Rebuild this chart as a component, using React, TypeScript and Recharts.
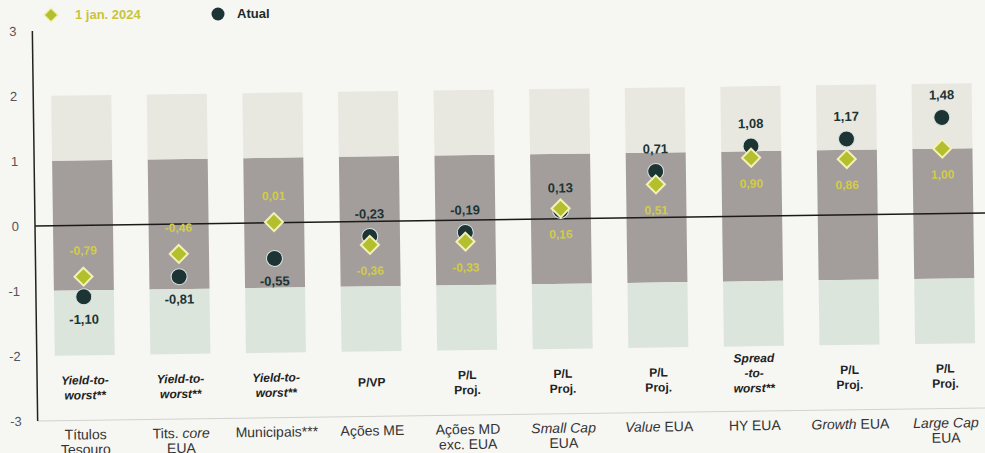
import React from 'react';
import { ComposedChart, Bar, Line, XAxis, YAxis, ReferenceLine, LabelList } from 'recharts';

// Valuation z-scores per asset class
const categorias = [
  'Títulos Tesouro', 'Tits. core EUA', 'Municipais***', 'Ações ME', 'Ações MD exc. EUA',
  'Small Cap EUA', 'Value EUA', 'HY EUA', 'Growth EUA', 'Large Cap EUA',
];
const atual = [-1.1, -0.81, -0.55, -0.23, -0.19, 0.13, 0.71, 1.08, 1.17, 1.48];
const jan2024 = [-0.79, -0.46, 0.01, -0.36, -0.33, 0.16, 0.51, 0.9, 0.86, 1.0];

// metric used for each class (italic flag per line)
const metricas: [string, boolean][][] = [
  [['Yield-to-', true], ['worst**', true]],
  [['Yield-to-', true], ['worst**', true]],
  [['Yield-to-', true], ['worst**', true]],
  [['P/VP', false]],
  [['P/L', false], ['Proj.', false]],
  [['P/L', false], ['Proj.', false]],
  [['P/L', false], ['Proj.', false]],
  [['Spread', true], ['-to-', true], ['worst**', true]],
  [['P/L', false], ['Proj.', false]],
  [['P/L', false], ['Proj.', false]],
];

// axis names, each line split in segments [text, italic]
const nomes: [string, boolean][][][] = [
  [[['Títulos', false]], [['Tesouro', false]]],
  [[['Tits. ', false], ['core', true]], [['EUA', false]]],
  [[['Municipais***', false]]],
  [[['Ações ME', false]]],
  [[['Ações MD', false]], [['exc. EUA', false]]],
  [[['Small Cap', true]], [['EUA', false]]],
  [[['Value', true], [' EUA', false]]],
  [[['HY EUA', false]]],
  [[['Growth', true], [' EUA', false]]],
  [[['Large Cap', true]], [['EUA', false]]],
];

const yTicks = [-3, -2, -1, 0, 1, 2, 3];
const desvio1 = 1;
const desvio2 = 2;

const data = categorias.map((c, i) => ({
  nome: c,
  atual: atual[i],
  jan: jan2024[i],
  internoPos: desvio1,
  externoPos: desvio2 - desvio1,
  internoNeg: -desvio1,
  externoNeg: -(desvio2 - desvio1),
}));

const fmt = (v: number) => v.toFixed(2).replace('.', ',');
const abaixo = (i: number) => atual[i] < -0.4;

const FONT = '"Liberation Sans", Arial, sans-serif';
const COR_ATUAL = '#1d3434';
const COR_JAN = '#b3bf2c';

const diamondPath = (cx: number, cy: number, r: number) =>
  `M${cx},${cy - r} L${cx + r},${cy} L${cx},${cy + r} L${cx - r},${cy} Z`;

const CategoryTick = (props: any) => {
  const { x, y, payload } = props;
  const i = payload.index;
  const m = metricas[i];
  const start = m.length === 3 ? -53 : m.length === 2 ? -40 : -34;
  return (
    <g>
      {m.map(([t, it], k) => (
        <text key={'m' + k} x={x} y={y + start + k * 15 + 4} textAnchor="middle" fontFamily={FONT}
          fontSize={12} fontWeight="bold" fontStyle={it ? 'italic' : 'normal'} fill="#222">{t}</text>
      ))}
      {nomes[i].map((linha, k) => (
        <text key={'n' + k} x={x} y={y + 15 + k * 15 + 4} textAnchor="middle" fontFamily={FONT}
          fontSize={14} fill="#333">
          {linha.map(([t, it], s) => (
            <tspan key={s} fontStyle={it ? 'italic' : 'normal'}>{t}</tspan>
          ))}
        </text>
      ))}
    </g>
  );
};

const App: React.FC = () => (
  <div style={{ position: 'absolute', left: 0, top: 0, width: 985, height: 453, overflow: 'hidden', background: '#f6f6f3' }}>
    <div style={{ position: 'absolute', left: 0, top: 0, transform: 'rotate(-0.78deg)', transformOrigin: '35px 226px' }}>
      <ComposedChart width={994} height={470} data={data} stackOffset="sign" barSize={60}
        margin={{ top: 31, right: 3, bottom: 17, left: 0 }}>
        <XAxis dataKey="nome" height={32} tickSize={0} tickMargin={0} interval={0}
          axisLine={{ stroke: '#d2d2ce' }} tick={<CategoryTick />} />
        <YAxis width={35} domain={[-3, 3]} ticks={yTicks} type="number" allowDataOverflow
          axisLine={{ stroke: '#222', strokeWidth: 1.5 }} tickLine={false} tickMargin={10}
          tick={{ fontSize: 13, fill: '#555', fontFamily: FONT }} />
        <Bar dataKey="internoPos" stackId="b" fill="#a39e9c" isAnimationActive={false} />
        <Bar dataKey="externoPos" stackId="b" fill="#e8e8e0" isAnimationActive={false} />
        <Bar dataKey="internoNeg" stackId="b" fill="#a39e9c" isAnimationActive={false} />
        <Bar dataKey="externoNeg" stackId="b" fill="#dce5dc" isAnimationActive={false} />
        <ReferenceLine y={0} stroke="#1a1a1a" strokeWidth={1.5} />
        <Line dataKey="atual" stroke="none" isAnimationActive={false} activeDot={false}
          dot={(p: any) => (
            <circle key={'a' + p.index} cx={p.cx} cy={p.cy} r={8} fill={COR_ATUAL} stroke="#d8e4e0" strokeWidth={1} />
          )}>
          <LabelList dataKey="atual" content={(p: any) => (
            <text x={p.x} y={abaixo(p.index) ? p.y + 27 : p.y - 18} textAnchor="middle" fontFamily={FONT}
              fontSize={13} fontWeight="bold" fill={COR_ATUAL}>{fmt(p.value)}</text>
          )} />
        </Line>
        <Line dataKey="jan" stroke="none" isAnimationActive={false} activeDot={false}
          dot={(p: any) => (
            <path key={'j' + p.index} d={diamondPath(p.cx, p.cy, 9)} fill={COR_JAN} stroke="#f3f0b8" strokeWidth={2} />
          )}>
          <LabelList dataKey="jan" content={(p: any) => (
            <text x={p.x} y={abaixo(p.index) ? p.y - 22 : p.y + 30} textAnchor="middle" fontFamily={FONT}
              fontSize={12} fontWeight="bold" fill="#d2cc48">{fmt(p.value)}</text>
          )} />
        </Line>
      </ComposedChart>
    </div>
    {/* legend */}
    <svg width={320} height={28} style={{ position: 'absolute', left: 0, top: 0 }}>
      <path d={diamondPath(51, 15, 7)} fill={COR_JAN} stroke="#f3f0b8" strokeWidth={1.5} />
      <text x={75} y={19} fontFamily={FONT} fontSize={13} fontWeight="bold" fill="#c8c43c">1 jan. 2024</text>
      <circle cx={218} cy={14} r={6.5} fill={COR_ATUAL} />
      <text x={237} y={18} fontFamily={FONT} fontSize={13} fontWeight="bold" fill="#1c2a2a">Atual</text>
    </svg>
  </div>
);

export default App;
